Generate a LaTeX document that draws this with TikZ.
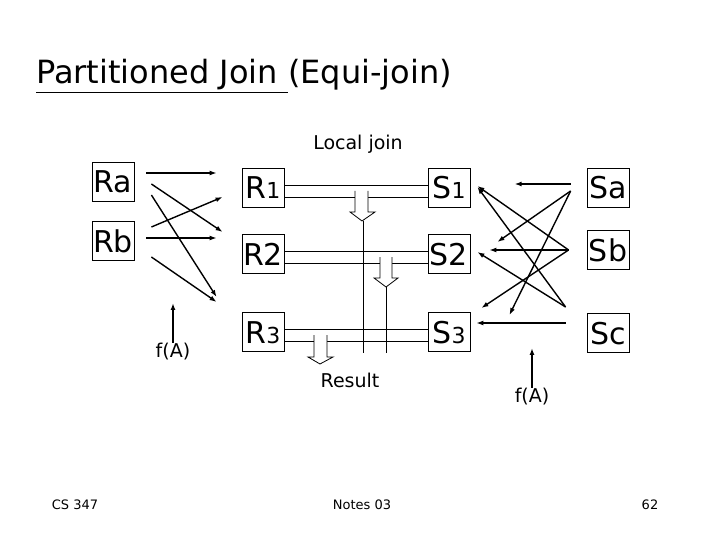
\documentclass[tikz,border=0pt]{standalone}
\usepackage{fontspec}
\setmainfont{DejaVu Sans}
\usetikzlibrary{arrows.meta,positioning}
\tikzset{
  box/.style={draw, line width=0.8pt, inner sep=0pt, minimum width=42pt, minimum height=39pt,
    text height=22pt, text depth=0pt, font=\fontsize{30}{32}\selectfont},
  flow/.style={-{Latex[length=7pt,width=5pt]}, line width=1.4pt},
  band/.style={line width=0.8pt},
  lbl/.style={font=\fontsize{19}{22}\selectfont}
}
\newcommand{\sdig}[1]{{\fontsize{22}{24}\selectfont #1}}
\begin{document}
\begin{tikzpicture}[x=1pt,y=-1pt]
\useasboundingbox (0,0) rectangle (720,540);

% title and footer
\node[anchor=base west, font=\fontsize{32}{36}\selectfont, inner sep=0] (title) at (36,84)
  {\underline{Partitioned Join }(Equi-join)};
\node[font=\fontsize{13}{15}\selectfont] (cs) at (75,505) {CS 347};
\node[font=\fontsize{13}{15}\selectfont] (notes) at (362,505) {Notes 03};
\node[font=\fontsize{13}{15}\selectfont] (page) at (650,505) {62};

% relations
\node[box] (Ra) at (113,182) {Ra};
\node[box] (Rb) at (113,241) {Rb};
\node[box] (R1) at (263,188) {R\sdig{1}};
\node[box] (R2) at (263,254) {R2};
\node[box] (R3) at (263,332) {R\sdig{3}};
\node[box] (S1) at (449,188) {S\sdig{1}};
\node[box] (S2) at (449,254) {S2};
\node[box] (S3) at (449,332) {S\sdig{3}};
\node[box] (Sa) at (608,188) {Sa};
\node[box] (Sb) at (608,250) {Sb};
\node[box] (Sc) at (608,333) {Sc};

\node[lbl] (local) at (358,144) {Local join};
\node[lbl] (result) at (350,380) {Result};
\node[lbl] (fAL) at (173,352) {f(A)};
\node[lbl] (fAR) at (532,397) {f(A)};

% local join bands
\foreach \r/\s in {R1/S1,R2/S2,R3/S3}{
  \draw[band] ([yshift=-9]\r.east) -- ([yshift=-9]\s.west);
  \draw[band] ([yshift=3]\r.east) -- ([yshift=3]\s.west);
}

% hollow arrows to result
\draw[band, fill=white] (355,191) -- (355,212) -- (350,212) -- (362,221) -- (375,212) -- (368,212) -- (368,191);
\draw[band] (363,221) -- (363,353);
\draw[band, fill=white] (380,257) -- (380,278) -- (374,278) -- (386,287) -- (398,278) -- (392,278) -- (392,257);
\draw[band] (386,287) -- (386,353);
\draw[band, fill=white] (314,335) -- (314,357) -- (308,357) -- (320,364) -- (333,357) -- (327,357) -- (327,335);

% partitioning of R
\draw[flow] ([shift={(12,-9)}]Ra.east) -- ([shift={(-25,-15)}]R1.west);
\draw[flow] ([shift={(17,2)}]Ra.east) -- ([shift={(-19,-22)}]R2.west);
\draw[flow] ([shift={(17,13)}]Ra.east) -- ([shift={(-25,-35)}]R3.west);
\draw[flow] ([shift={(17,-14)}]Rb.east) -- ([shift={(-19,9)}]R1.west);
\draw[flow] ([shift={(12,-3)}]Rb.east) -- ([shift={(-25,-16)}]R2.west);
\draw[flow] ([shift={(17,16)}]Rb.east) -- ([shift={(-25,-30)}]R3.west);
\draw[flow] ([yshift=-3]fAL.north) -- ++(0,-40);

% partitioning of S
\draw[flow] ([shift={(-16,-4)}]Sa.west) -- ([shift={(-72,-4)}]Sa.west);
\draw[flow] ([shift={(-16,3)}]Sa.west) -- ([shift={(27,-12)}]S2.east);
\draw[flow] ([shift={(-16,3)}]Sa.west) -- ([shift={(39,-17)}]S3.east);
\draw[flow] ([shift={(-18,0)}]Sb.west) -- ([shift={(7,-2)}]S1.east);
\draw[flow] ([shift={(-18,0)}]Sb.west) -- ([shift={(19,-4)}]S2.east);
\draw[flow] ([shift={(-18,0)}]Sb.west) -- ([shift={(11,-24)}]S3.east);
\draw[flow] ([shift={(-21,-26)}]Sc.west) -- ([shift={(7,-1)}]S1.east);
\draw[flow] ([shift={(-21,-26)}]Sc.west) -- ([shift={(7,-2)}]S2.east);
\draw[flow] ([shift={(-21,-10)}]Sc.west) -- ([shift={(6,-9)}]S3.east);
\draw[flow] ([yshift=-3]fAR.north) -- ++(0,-40);
\end{tikzpicture}
\end{document}
